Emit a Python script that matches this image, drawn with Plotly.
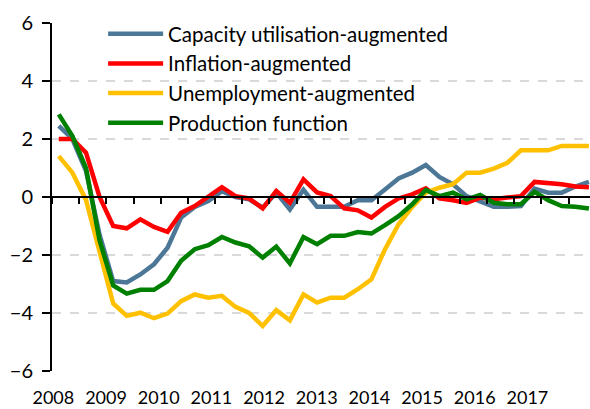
import plotly.graph_objects as go

# Quarterly data, 2008Q1 .. 2017Q4 (40 quarters), percent of potential output
quarters = list(range(40))

capacity = [2.45, 2.0, 0.9, -1.3, -2.9, -2.95, -2.67, -2.32, -1.75, -0.71,
            -0.34, -0.14, 0.2, 0.0, -0.08, -0.37, 0.15, -0.43, 0.25, -0.34,
            -0.34, -0.34, -0.11, -0.11, 0.26, 0.64, 0.84, 1.1, 0.69, 0.44,
            0.03, -0.14, -0.34, -0.34, -0.31, 0.29, 0.15, 0.15, 0.36, 0.52]

inflation = [2.0, 2.0, 1.53, 0.0, -1.0, -1.08, -0.77, -1.03, -1.2, -0.54,
             -0.31, 0.0, 0.34, 0.03, -0.05, -0.39, 0.21, -0.2, 0.61, 0.16,
             0.03, -0.39, -0.46, -0.71, -0.34, -0.05, 0.09, 0.3, -0.05, -0.11,
             -0.2, -0.02, -0.08, -0.02, 0.03, 0.52, 0.49, 0.44, 0.36, 0.34]

unemployment = [1.41, 0.84, -0.1, -1.9, -3.67, -4.1, -3.99, -4.18, -4.02, -3.59,
                -3.36, -3.47, -3.41, -3.79, -4.0, -4.45, -3.9, -4.25, -3.36, -3.64,
                -3.47, -3.47, -3.18, -2.84, -1.8, -0.94, -0.34, 0.15, 0.32, 0.44,
                0.84, 0.84, 0.98, 1.18, 1.61, 1.61, 1.61, 1.76, 1.76, 1.76]

production = [2.85, 2.1, 1.0, -1.5, -3.05, -3.33, -3.2, -3.2, -2.9, -2.2,
              -1.8, -1.66, -1.38, -1.57, -1.7, -2.09, -1.71, -2.29, -1.38, -1.63,
              -1.34, -1.34, -1.21, -1.26, -0.97, -0.66, -0.25, 0.24, 0.03, 0.15,
              -0.08, 0.07, -0.2, -0.25, -0.25, 0.18, -0.11, -0.31, -0.34, -0.4]

series_names = ["Capacity utilisation-augmented", "Inflation-augmented",
                "Unemployment-augmented", "Production function"]
series_values = [capacity, inflation, unemployment, production]
series_colors = ["#4D7796", "#FF0000", "#FFC000", "#008000"]

year_labels = ["2008", "2009", "2010", "2011", "2012",
               "2013", "2014", "2015", "2016", "2017"]
y_ticks = [-6, -4, -2, 0, 2, 4, 6]

FONT = "Lato"

fig = go.Figure()
for name, vals, col in zip(series_names, series_values, series_colors):
    fig.add_trace(go.Scatter(
        x=quarters, y=vals, name=name, mode="lines",
        line=dict(color=col, width=4.5),
    ))

x_range = [-0.5, 39.08]
label_pos = [-0.4 + j * 3.875 for j in range(len(year_labels))]
half_year_ticks = [q - 0.5 for q in quarters[::2]]

fig.update_layout(
    width=590, height=409,
    margin=dict(l=52, r=0, t=23, b=38, autoexpand=False),
    paper_bgcolor="white", plot_bgcolor="white",
    font=dict(family=FONT, size=18, color="#000000"),
    showlegend=True,
    legend=dict(
        x=0.095, y=1.026, xanchor="left", yanchor="top",
        bgcolor="rgba(0,0,0,0)", borderwidth=0,
        font=dict(family=FONT, size=20.5, color="#000000"),
        itemwidth=55,
    ),
    xaxis=dict(
        range=x_range, showgrid=False, zeroline=False, showline=False,
        automargin=False,
        tickmode="array", tickvals=label_pos, ticktext=year_labels,
        ticks="outside", ticklen=10, tickcolor="rgba(0,0,0,0)",
        tickfont=dict(family=FONT, size=18, color="#000000"),
    ),
    xaxis2=dict(
        range=x_range, overlaying="x", anchor="free", position=0.5,
        automargin=False,
        showgrid=False, zeroline=False, showline=True,
        linecolor="#000000", linewidth=2,
        tickmode="array", tickvals=half_year_ticks, showticklabels=False,
        ticks="outside", ticklen=6, tickwidth=2, tickcolor="#000000",
    ),
    yaxis=dict(
        range=[-6, 6], tickmode="array", tickvals=y_ticks, automargin=False,
        showgrid=True, gridcolor="#D9D9D9", griddash="dash", gridwidth=1.5,
        zeroline=False, showline=True, linecolor="#000000", linewidth=2,
        ticks="outside", ticklen=8, tickwidth=2, tickcolor="#000000",
        ticklabelstandoff=5,
        tickfont=dict(family=FONT, size=20, color="#000000"),
    ),
)
# empty trace so the zero-line axis (xaxis2) is rendered
fig.add_trace(go.Scatter(x=[None], y=[None], xaxis="x2", showlegend=False,
                         hoverinfo="skip"))

fig.write_html("out.html",
               config={"displayModeBar": False},
               post_script="document.body.style.margin='0';")
